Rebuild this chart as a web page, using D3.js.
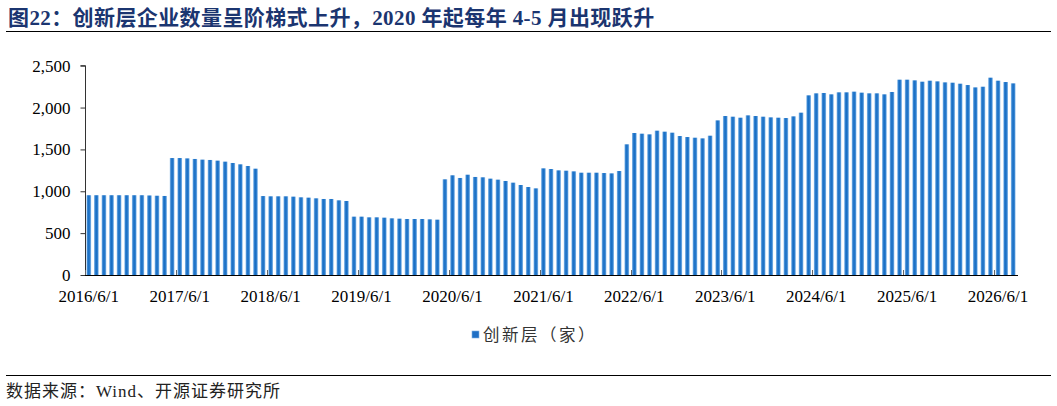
<!DOCTYPE html>
<html>
<head>
<meta charset="utf-8">
<script src="https://cdn.jsdelivr.net/npm/d3@7"></script>
<style>
  body { margin: 0; background: #fff; }
  svg { display: block; }
  .serif { font-family: "Times New Roman", "Liberation Serif", "Noto Sans CJK SC", serif; }
</style>
</head>
<body>
<div id="chart"></div>
<script>
// Monthly count of innovation-layer companies, first bar = 2016/6
var startMonth = new Date(2016, 5, 1);
var values = [
    953, 953, 953, 953, 953, 953, 953, 953, 950, 947, 944,
    1397, 1397, 1393, 1386, 1378, 1374, 1366, 1354, 1338, 1322, 1302, 1270,
    943, 940, 940, 940, 936, 928, 924, 916, 908, 908, 892, 884,
    697, 697, 689, 689, 685, 677, 673, 669, 669, 669, 665, 661,
    1143, 1191, 1159, 1198, 1171, 1167, 1151, 1139, 1123, 1103, 1075, 1051, 1035,
    1274, 1266, 1250, 1246, 1238, 1222, 1222, 1222, 1218, 1214, 1242,
    1561, 1696, 1688, 1680, 1724, 1712, 1700, 1660, 1648, 1640, 1632, 1664,
    1847, 1899, 1891, 1879, 1907, 1899, 1891, 1883, 1879, 1875, 1895, 1939,
    2146, 2170, 2174, 2158, 2182, 2182, 2190, 2178, 2170, 2170, 2158, 2186,
    2333, 2333, 2325, 2309, 2321, 2313, 2301, 2297, 2285, 2269, 2241, 2249,
    2357, 2321, 2305, 2289
];
var yTicks = [0, 500, 1000, 1500, 2000, 2500];
var tickLabels = ["2016/6/1", "2017/6/1", "2018/6/1", "2019/6/1", "2020/6/1", "2021/6/1",
                  "2022/6/1", "2023/6/1", "2024/6/1", "2025/6/1", "2026/6/1"];
var seriesName = "创新层（家）";
var titleText = "图22：创新层企业数量呈阶梯式上升，2020 年起每年 4-5 月出现跃升";
var sourceText = "数据来源：Wind、开源证券研究所";

// Category keys, one per month
var fmt = d3.timeFormat("%Y/%-m/%-d");
var months = d3.timeMonth.range(startMonth, d3.timeMonth.offset(startMonth, values.length)).map(fmt);
var data = months.map(function(m, i) { return { month: m, value: values[i] }; });

var W = 1057, H = 406;
var plot = { left: 85, right: 1017, top: 65.7, bottom: 275 };

var svg = d3.select("#chart").append("svg")
    .attr("width", W)
    .attr("height", H);

// Bar gradient: light edges, dark centre
var grad = svg.append("defs").append("linearGradient")
    .attr("id", "barGrad")
    .attr("x1", "0%").attr("x2", "100%")
    .attr("y1", "0%").attr("y2", "0%");
grad.append("stop").attr("offset", "0%").attr("stop-color", "#9cc5ec");
grad.append("stop").attr("offset", "25%").attr("stop-color", "#2f80d0");
grad.append("stop").attr("offset", "50%").attr("stop-color", "#196ec3");
grad.append("stop").attr("offset", "75%").attr("stop-color", "#2f80d0");
grad.append("stop").attr("offset", "100%").attr("stop-color", "#9cc5ec");

// Title and rules
svg.append("text")
    .attr("class", "serif")
    .attr("x", 8)
    .attr("y", 25)
    .attr("fill", "#1b3570")
    .style("font-size", "21px")
    .style("font-weight", "bold")
    .style("letter-spacing", "0.4px")
    .text(titleText);

svg.append("line")
    .attr("x1", 6).attr("x2", 1051)
    .attr("y1", 31.5).attr("y2", 31.5)
    .attr("stroke", "#000").attr("stroke-width", 1);

svg.append("line")
    .attr("x1", 6).attr("x2", 1051)
    .attr("y1", 375.5).attr("y2", 375.5)
    .attr("stroke", "#000").attr("stroke-width", 1);

svg.append("text")
    .attr("class", "serif")
    .attr("x", 6)
    .attr("y", 397)
    .attr("fill", "#222")
    .style("font-size", "17px")
    .style("letter-spacing", "1px")
    .text(sourceText);

// Scales
var x = d3.scaleBand()
    .domain(months)
    .range([plot.left, plot.right])
    .paddingInner(0.38)
    .paddingOuter(0.19);

var y = d3.scaleLinear()
    .domain([0, 2500])
    .range([plot.bottom, plot.top]);

// Bars
svg.append("g")
    .selectAll("rect")
    .data(data)
    .enter()
    .append("rect")
        .attr("x", function(d) { return x(d.month); })
        .attr("y", function(d) { return y(d.value); })
        .attr("width", x.bandwidth())
        .attr("height", function(d) { return y(0) - y(d.value); })
        .style("fill", "url(#barGrad)");

// Y axis
var yAxis = d3.axisLeft(y)
    .tickValues(yTicks)
    .tickFormat(d3.format(","))
    .tickSize(5)
    .tickPadding(10);

var gy = svg.append("g")
    .attr("class", "serif")
    .attr("transform", "translate(" + (plot.left + 0.5) + ",0)")
    .call(yAxis);
gy.select(".domain").attr("stroke", "#333").attr("d", "M-5," + y(2500) + "H0V" + y(0));
gy.selectAll(".tick line").attr("stroke", "#333");
gy.selectAll("text").style("font-size", "17px").attr("fill", "#000");
gy.attr("font-family", null);

// X axis: ticks on category boundaries every 12 months, pointing inward
var step = x.step();
var labelIdx = months.filter(function(m, i) { return i % 12 === 0; });

var gx = svg.append("g").attr("class", "serif");
gx.selectAll(".xtick")
    .data(labelIdx)
    .enter()
    .append("line")
        .attr("x1", function(m) { return Math.round(x(m) - step * 0.19) + 0.5; })
        .attr("x2", function(m) { return Math.round(x(m) - step * 0.19) + 0.5; })
        .attr("y1", plot.bottom)
        .attr("y2", plot.bottom - 5)
        .attr("stroke", "#666");

gx.append("line")
    .attr("x1", plot.left).attr("x2", plot.right + 1)
    .attr("y1", plot.bottom + 0.5).attr("y2", plot.bottom + 0.5)
    .attr("stroke", "#000").attr("stroke-width", 1.2);

gx.selectAll(".xlabel")
    .data(labelIdx)
    .enter()
    .append("text")
        .attr("x", function(m) { return x(m) + x.bandwidth() / 2; })
        .attr("y", 302)
        .attr("text-anchor", "middle")
        .style("font-size", "17px")
        .attr("fill", "#000")
        .text(function(m, i) { return tickLabels[i]; });

// Legend
var legend = svg.append("g").attr("transform", "translate(472,331)");
legend.append("rect")
    .attr("width", 7).attr("height", 7)
    .attr("fill", "#1f6fc5")
    .attr("stroke", "#7fb0e3").attr("stroke-width", 0.6);
legend.append("text")
    .attr("class", "serif")
    .attr("x", 11)
    .attr("y", 10)
    .attr("fill", "#333")
    .style("font-size", "16.5px")
    .style("letter-spacing", "2.5px")
    .text(seriesName);
</script>
</body>
</html>
